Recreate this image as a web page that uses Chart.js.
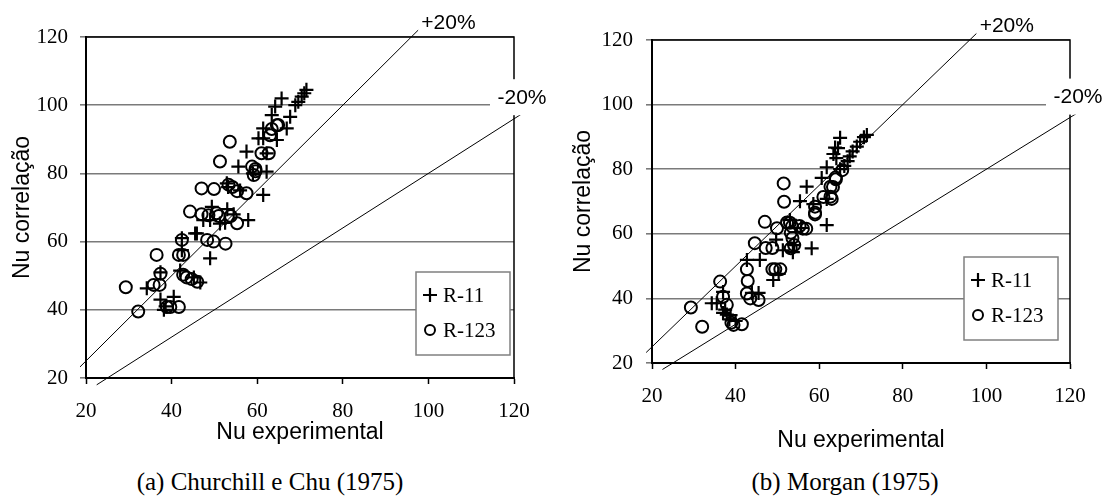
<!DOCTYPE html>
<html>
<head>
<meta charset="utf-8">
<script src="https://cdn.jsdelivr.net/npm/chart.js@4.4.1/dist/chart.umd.min.js"></script>
<style>
  body { margin: 0; background: #fff; width: 1109px; height: 504px; position: relative; overflow: hidden; }
  canvas { position: absolute; top: 0; }
  #chartA { left: 0; }
  #chartB { left: 560px; }
  .caption { position: absolute; top: 468px; width: 400px; text-align: center;
             font-family: 'Liberation Serif', 'Times New Roman', serif; font-size: 25px; line-height: 28px; }
</style>
</head>
<body>
<canvas id="chartA" width="555" height="455"></canvas>
<canvas id="chartB" width="549" height="455"></canvas>
<div class="caption" style="left:70px">(a) Churchill e Chu (1975)</div>
<div class="caption" style="left:645px">(b) Morgan (1975)</div>
<script>
// axis ticks (both axes, both panels)
const tickValues = [20, 40, 60, 80, 100, 120];

// +/-20% reference lines
const bandLabels = ['+20%', '-20%'];
const bandFactors = [1.25, 0.8];
const bandStartX = [18.6, 22.5];
const bandEndX = [97.6, 123];

// (a) Churchill e Chu (1975)
const churchillR11X = [71.5, 71, 70.4, 69.6, 68.9, 65.7, 64.2, 67.7, 63.4, 66.9, 61.4, 60.3, 64.6, 61.4, 57.5,
  62.2, 55.6, 62.2, 61.4, 52.9, 53.2, 49.4, 49, 47.4, 51.3, 57.9, 52.5, 45.9, 45.5, 49, 42.4, 42.4, 42,
  45.2, 46.7, 37.4, 34.2, 37.4, 38.6, 40.5, 38.2, 54.5, 56, 59, 53];
const churchillR11Y = [104.5, 103.5, 102.5, 101, 100, 102, 99.6, 96.6, 97.1, 93.2, 93.2, 90.3, 89.8, 90.3, 86.4,
  85.9, 82, 80.5, 73.7, 77.1, 76, 70.2, 66.3, 66.3, 65.3, 66.3, 65.5, 62.4, 62.4, 55.1, 61, 57.5, 51.5,
  49.5, 48, 51, 46.3, 43, 41, 43.8, 40, 68, 75, 80, 69.5];
const churchillR123X = [29.3, 32.2, 36.5, 37.4, 35.8, 37.2, 38.9, 39.7, 41.7, 42.4, 41.7, 42.7, 42.7, 43.5,
  44.7, 46, 44.3, 47, 49.9, 47, 48.6, 50.5, 51, 53.8, 51.3, 53.6, 53.3, 54.2, 55.3, 57.5, 55.3, 48.3, 49.8,
  52.6, 59.6, 59.6, 59.2, 58.8, 62.7, 61, 63, 64.6, 64.9, 63.4];
const churchillR123Y = [46.6, 39.5, 56.1, 50.6, 47.3, 47.3, 40.8, 40.8, 40.8, 60.5, 56.1, 56.1, 50.3, 49.5,
  49, 48.2, 68.8, 75.6, 75.4, 68, 67.7, 68.3, 67.5, 67.5, 83.5, 89.3, 76.7, 76, 74.8, 74.2, 65.4, 60.5, 60,
  59.4, 81.3, 80.6, 79.5, 82, 85.9, 85.9, 91.2, 94.1, 94.2, 93];

// (b) Morgan (1975)
const morganR11X = [71.4, 70.7, 69.8, 69, 68, 67.3, 66.8, 66, 65, 65, 63.8, 63.4, 64.1, 64.5, 61.8, 60.6, 57,
  55.4, 58.6, 61.8, 61.8, 58.2, 55.7, 53.7, 53, 49.7, 51.3, 50.3, 49, 42.7, 45.8, 43.9, 45.5, 37, 34.3, 35.5,
  37, 37.9, 38.8, 54, 38.5, 40, 37.5];
const morganR11Y = [90.6, 89.9, 88.5, 87, 85.5, 84, 82.5, 81, 80, 89.7, 86.7, 84.7, 83.4, 86.5, 80.6, 77.3,
  74.6, 70.1, 69.2, 70.8, 62.7, 55.5, 61.8, 54.3, 64.3, 58.2, 54.9, 47.6, 45.7, 51.9, 51.9, 41.7, 41.7, 42,
  38.5, 38.5, 35.5, 35, 34.8, 56.5, 33.5, 33, 36.5];
const morganR123X = [29.3, 36.3, 37, 37.9, 42.7, 42.9, 42.7, 43.5, 45.5, 44.6, 47, 47.2, 48.8, 49.9, 51.6,
  51.5, 48.8, 49.5, 50.7, 52.3, 53, 53.5, 53.2, 53.6, 54, 53.2, 55.3, 56.9, 56.1, 59, 59, 59, 61, 63, 63.3,
  64, 65.5, 63.9, 62.7, 62.7, 32, 39, 39.5, 41.5];
const morganR123Y = [37.2, 45.2, 40.5, 38, 49, 45.4, 41.5, 40, 39.5, 57.1, 63.7, 55.6, 55.6, 61.7, 69.9,
  75.6, 49, 49, 49, 63.5, 63.4, 62.3, 60.3, 58.7, 56.5, 55.5, 62.4, 61.6, 61.6, 68.4, 66.5, 66, 71.4, 70.8,
  74.5, 76.9, 79.7, 77.4, 74.6, 71.5, 31.2, 32.5, 31.8, 32];

Chart.defaults.font.family = "'Liberation Serif', 'Times New Roman', serif";
Chart.defaults.color = '#000';

function pairs(xs, ys) {
  return xs.map((x, i) => ({ x: x, y: ys[i] }));
}

// top and right edges of the plot box
const framePlugin = {
  id: 'frame',
  beforeDatasetsDraw(chart) {
    const { ctx, chartArea: a } = chart;
    ctx.save();
    ctx.strokeStyle = '#000';
    ctx.lineWidth = 1.5;
    ctx.beginPath();
    ctx.moveTo(a.left, a.top);
    ctx.lineTo(a.right, a.top);
    ctx.lineTo(a.right, a.bottom);
    ctx.stroke();
    ctx.restore();
  }
};

// +20% / -20% text at the ends of the reference lines
const bandTextPlugin = {
  id: 'bandText',
  afterDatasetsDraw(chart) {
    const { ctx, chartArea: a, scales } = chart;
    ctx.save();
    ctx.font = "21px 'Liberation Sans', Arial, sans-serif";
    ctx.fillStyle = '#000';
    ctx.textBaseline = 'middle';
    // upper line: label to the right of where it leaves the top
    const xTop = scales.x.getPixelForValue(scales.y.max / bandFactors[0]);
    ctx.textAlign = 'left';
    ctx.fillText(bandLabels[0], xTop + 10, a.top - 14);
    // lower line: label on white box over the right edge
    const yRef = scales.y.getPixelForValue(100) - 7;
    const cx = a.right + 8;
    ctx.fillStyle = '#fff';
    ctx.fillRect(a.right - 24, yRef - 19, 66, 36);
    ctx.fillStyle = '#000';
    ctx.textAlign = 'center';
    ctx.fillText(bandLabels[1], cx, yRef);
    ctx.restore();
  }
};

// boxed legend in the lower right corner of the plot
const boxLegendPlugin = {
  id: 'boxLegend',
  afterDatasetsDraw(chart, args, opts) {
    const { ctx, chartArea: a } = chart;
    const w = 94, h = 83;
    const x = a.right - opts.rightGap - w;
    const y = a.bottom - 23 - h;
    ctx.save();
    ctx.fillStyle = '#fff';
    ctx.fillRect(x, y, w, h);
    ctx.strokeStyle = '#808080';
    ctx.lineWidth = 1.5;
    ctx.strokeRect(x, y, w, h);
    ctx.font = "21px 'Liberation Serif', 'Times New Roman', serif";
    ctx.textAlign = 'left';
    ctx.textBaseline = 'middle';
    ctx.strokeStyle = '#000';
    ctx.fillStyle = '#000';
    chart.data.datasets.filter(d => d.inLegend).forEach((d, i) => {
      const my = y + 23 + i * 35;
      const mx = x + 14;
      ctx.lineWidth = 2.2;
      ctx.beginPath();
      if (d.pointStyle === 'cross') {
        ctx.moveTo(mx - 7, my); ctx.lineTo(mx + 7, my);
        ctx.moveTo(mx, my - 7); ctx.lineTo(mx, my + 7);
      } else {
        ctx.lineWidth = 2;
        ctx.arc(mx, my, 5, 0, Math.PI * 2);
      }
      ctx.stroke();
      ctx.fillText(d.label, x + 27, my + 1);
    });
    ctx.restore();
  }
};

function makeChart(id, r11x, r11y, r123x, r123y, L) {
  const bandSets = bandLabels.map((lab, i) => ({
    type: 'line',
    label: lab,
    data: [
      { x: bandStartX[i], y: bandStartX[i] * bandFactors[i] },
      { x: bandEndX[i], y: bandEndX[i] * bandFactors[i] }
    ],
    borderColor: '#000',
    borderWidth: 1,
    pointRadius: 0,
    showLine: true,
    fill: false,
    clip: false
  }));
  return new Chart(document.getElementById(id), {
    type: 'scatter',
    data: {
      datasets: [
        {
          label: 'R-11', inLegend: true,
          data: pairs(r11x, r11y),
          pointStyle: 'cross', pointRadius: 7, pointBorderWidth: 2.2,
          borderColor: '#000', backgroundColor: '#000'
        },
        {
          label: 'R-123', inLegend: true,
          data: pairs(r123x, r123y),
          pointStyle: 'circle', pointRadius: 6, pointBorderWidth: 2,
          borderColor: '#000', backgroundColor: 'rgba(0,0,0,0)'
        }
      ].concat(bandSets)
    },
    options: {
      responsive: false,
      animation: false,
      events: [],
      layout: { padding: { top: L.padTop, right: L.padRight, left: 0, bottom: 0 } },
      plugins: {
        legend: { display: false },
        tooltip: { enabled: false },
        boxLegend: { rightGap: L.legendGap }
      },
      scales: {
        x: {
          type: 'linear', min: 20, max: 120,
          afterBuildTicks: s => { s.ticks = tickValues.map(v => ({ value: v })); },
          afterFit: s => { s.height = L.xHeight; },
          ticks: { padding: L.xTickPad, font: { size: 21 }, color: '#000', autoSkip: false, maxRotation: 0 },
          grid: { drawOnChartArea: false, drawTicks: true, tickLength: 6, color: '#000', tickColor: '#000', tickWidth: 1.5 },
          border: { color: '#000', width: 2 },
          title: {
            display: true, text: 'Nu experimental', color: '#000',
            font: { family: "'Liberation Sans', Arial, sans-serif", size: 23 },
            padding: { top: 0, bottom: L.xTitlePad }
          }
        },
        y: {
          type: 'linear', min: 20, max: 120,
          afterBuildTicks: s => { s.ticks = tickValues.map(v => ({ value: v })); },
          afterFit: s => { s.width = L.yWidth; },
          ticks: { padding: L.yTickPad, font: { size: 21 }, color: '#000' },
          grid: { color: '#7a7a7a', lineWidth: 1.6, tickLength: 6, tickColor: '#7a7a7a' },
          border: { color: '#000', width: 2 },
          title: {
            display: true, text: 'Nu correlação', color: '#000',
            font: { family: "'Liberation Sans', Arial, sans-serif", size: 23 },
            padding: { top: L.yTitlePad, bottom: 0 }
          }
        }
      }
    },
    plugins: [framePlugin, bandTextPlugin, boxLegendPlugin]
  });
}

makeChart('chartA', churchillR11X, churchillR11Y, churchillR123X, churchillR123Y, {
  padTop: 37, padRight: 41, yWidth: 86, xHeight: 77,
  yTitlePad: 9, yTickPad: 12, xTickPad: 15, xTitlePad: 9, legendGap: 4
});
makeChart('chartB', morganR11X, morganR11Y, morganR123X, morganR123Y, {
  padTop: 40, padRight: 39, yWidth: 92, xHeight: 92,
  yTitlePad: 10, yTickPad: 13, xTickPad: 15, xTitlePad: 1, legendGap: 12
});
</script>
</body>
</html>
